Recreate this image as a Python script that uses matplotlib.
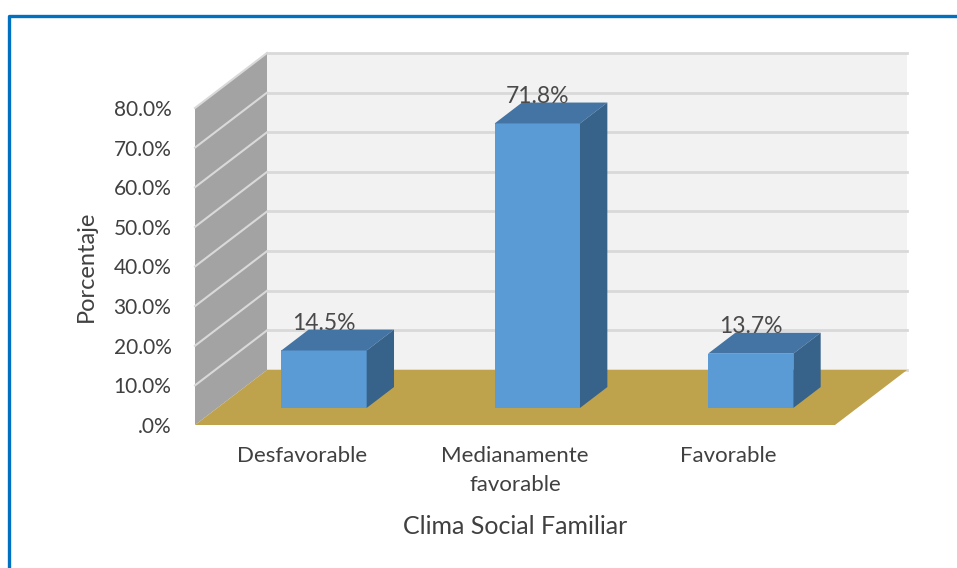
import numpy as np
import matplotlib
matplotlib.use("Agg")
import matplotlib.pyplot as plt
from matplotlib.patches import Polygon
from matplotlib.lines import Line2D

plt.rcParams['font.family'] = ['Lato', 'DejaVu Sans']

# Data
categories = ['Desfavorable', 'Medianamente\nfavorable', 'Favorable']
values = [14.5, 71.8, 13.7]
y_ticks = [0, 10, 20, 30, 40, 50, 60, 70, 80]
y_tick_labels = ['.0%', '10.0%', '20.0%', '30.0%', '40.0%', '50.0%', '60.0%', '70.0%', '80.0%']
x_title = 'Clima Social Familiar'
y_title = 'Porcentaje'

# Colours
front_col = '#5B9BD5'
top_col = '#4374A3'
side_col = '#37628A'
wall_col = '#F2F2F2'
side_wall_col = '#A3A3A3'
floor_col = '#BFA24C'
grid_col = '#D9D9D9'
text_col = '#404040'

W, H = 957, 568
fig = plt.figure(figsize=(W / 100, H / 100), dpi=100)
# axes = front plane of the 3D box
ax = fig.add_axes([195 / W, (H - 425) / H, 640 / W, 317 / H])
ax.set_xlim(-0.5, 2.5)
ax.set_ylim(0, 80)

# oblique depth offset (full depth) in data units
DX = 72 / (640 / 3)
DY = 55 / (317 / 80)
x0, x1 = -0.5, 2.5
ymax = y_ticks[-1]


def off(p, d):
    return (p[0] + DX * d, p[1] + DY * d)


def poly(pts, color, z):
    ax.add_patch(Polygon(pts, closed=True, facecolor=color, edgecolor='none',
                         zorder=z, clip_on=False))


# back wall
poly([off((x0, 0), 1), off((x1, 0), 1), off((x1, ymax), 1), off((x0, ymax), 1)], wall_col, 1)
for v in y_ticks:
    a, b = off((x0, v), 1), off((x1, v), 1)
    ax.plot([a[0], b[0]], [a[1], b[1]], color=grid_col, lw=2, zorder=2, clip_on=False)

# side wall
poly([(x0, 0), off((x0, 0), 1), off((x0, ymax), 1), (x0, ymax)], side_wall_col, 3)
for v in y_ticks[1:]:
    a = off((x0, v), 1)
    ax.plot([x0, a[0]], [v, a[1]], color=grid_col, lw=1.5, zorder=4, clip_on=False)

# floor
poly([(x0, 0), (x1, 0), off((x1, 0), 1), off((x0, 0), 1)], floor_col, 5)

# bars
bw = 0.40
d0, d1 = 0.31, 0.69
for i, v in enumerate(values):
    l, r = i - bw / 2, i + bw / 2
    poly([off((l, 0), d0), off((r, 0), d0), off((r, v), d0), off((l, v), d0)], front_col, 6)
    poly([off((l, v), d0), off((r, v), d0), off((r, v), d1), off((l, v), d1)], top_col, 6)
    poly([off((r, 0), d0), off((r, 0), d1), off((r, v), d1), off((r, v), d0)], side_col, 6)
    ax.annotate(f'{v:.1f}%', xy=off((i, v), d0), xytext=(0, 19.5), textcoords='offset points',
                ha='center', va='center', fontsize=16.5, color='#4a4a4a', zorder=8)

for s in ax.spines.values():
    s.set_visible(False)
ax.set_facecolor('none')
ax.set_yticks(y_ticks)
ax.set_yticklabels(y_tick_labels, fontsize=15, color=text_col)
ax.set_xticks(range(len(categories)))
ax.set_xticklabels(categories, fontsize=16, color=text_col, linespacing=1.55)
ax.tick_params(axis='y', length=0, pad=17)
ax.tick_params(axis='x', length=0, pad=15)
ax.set_xlabel(x_title, fontsize=18, color=text_col, labelpad=15)
ax.set_ylabel(y_title, fontsize=17, color=text_col, labelpad=12)

# blue frame of the chart area
fig.add_artist(Line2D([9 / W, 9 / W, 1.01], [-0.01, (H - 16) / H, (H - 16) / H],
                      transform=fig.transFigure, color='#0070C0', lw=2.4))

fig.savefig('out.png', dpi=100)
